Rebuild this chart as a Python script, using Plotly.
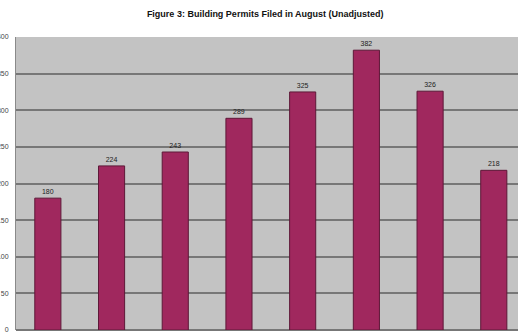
import plotly.graph_objects as go

# Building permits filed in August, one bar per period
periods = ["1", "2", "3", "4", "5", "6", "7", "8"]
permits = [180, 224, 243, 289, 325, 382, 326, 218]
y_ticks = [0, 50, 100, 150, 200, 250, 300, 350, 400]

fig = go.Figure(
    go.Bar(
        x=periods,
        y=permits,
        text=[str(v) for v in permits],
        textposition="outside",
        textfont=dict(family="Arial", size=7, color="#222222"),
        cliponaxis=False,
        marker=dict(color="#a0285e", line=dict(color="#5e1838", width=1)),
        width=0.41,
    )
)

fig.update_layout(
    width=518,
    height=336,
    margin=dict(l=16, r=0, t=37, b=6),
    paper_bgcolor="white",
    plot_bgcolor="#c3c3c3",
    showlegend=False,
    title=dict(
        text="<b>Figure 3: Building Permits Filed in August (Unadjusted)</b>",
        font=dict(family="Arial", size=9, color="#111111"),
        x=0.512,
        xanchor="center",
        y=0.958,
        yanchor="middle",
    ),
    xaxis=dict(
        type="category",
        range=[-0.5, 7.38],
        showticklabels=False,
        showgrid=False,
        showline=False,
        zeroline=False,
    ),
    yaxis=dict(
        range=[0, 400],
        automargin=False,
        tickvals=y_ticks,
        ticktext=[str(t) for t in y_ticks],
        tickfont=dict(family="Arial", size=7, color="#444444"),
        ticklabelstandoff=5,
        ticks="",
        gridcolor="#777777",
        gridwidth=1.5,
        showline=True,
        linecolor="#8a8a8a",
        linewidth=1,
        zeroline=True,
        zerolinecolor="#777777",
        zerolinewidth=1.5,
    ),
)

fig.write_html("out.html")
